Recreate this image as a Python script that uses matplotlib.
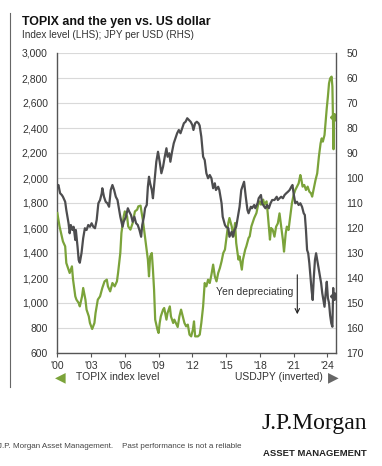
import matplotlib
matplotlib.use("Agg")
import matplotlib.pyplot as plt
from matplotlib.lines import Line2D

plt.rcParams['font.family'] = ['Liberation Sans', 'DejaVu Sans']

# ---------------- data ----------------
topix_years = [2000.0, 2000.2, 2000.4, 2000.5, 2000.7, 2000.8, 2001.0, 2001.1, 2001.3, 2001.4,
               2001.6, 2001.7, 2001.9, 2002.0, 2002.2, 2002.3, 2002.5, 2002.6, 2002.8, 2002.9,
               2003.1, 2003.3, 2003.4, 2003.6, 2003.8, 2004.0, 2004.2, 2004.4, 2004.5, 2004.7,
               2004.9, 2005.1, 2005.3, 2005.4, 2005.6, 2005.7, 2005.9, 2006.0, 2006.2, 2006.3,
               2006.5, 2006.7, 2006.9, 2007.1, 2007.2, 2007.4, 2007.5, 2007.6, 2007.75, 2007.9,
               2008.05, 2008.15, 2008.25, 2008.4, 2008.5, 2008.6, 2008.7, 2008.9, 2009.0, 2009.1,
               2009.2, 2009.4, 2009.5, 2009.7, 2009.8, 2010.0, 2010.1, 2010.3, 2010.4, 2010.6,
               2010.7, 2010.85, 2011.0, 2011.15, 2011.3, 2011.45, 2011.6, 2011.75, 2011.9, 2012.05,
               2012.15, 2012.25, 2012.5, 2012.66, 2012.8, 2012.96, 2013.1, 2013.25, 2013.4, 2013.55,
               2013.7, 2013.85, 2014.0, 2014.15, 2014.3, 2014.45, 2014.6, 2014.75, 2014.9, 2015.05,
               2015.2, 2015.3, 2015.5, 2015.65, 2015.8, 2015.9, 2016.1, 2016.2, 2016.4, 2016.5,
               2016.7, 2016.8, 2017.0, 2017.1, 2017.25, 2017.4, 2017.5, 2017.7, 2017.85, 2018.0,
               2018.1, 2018.3, 2018.4, 2018.6, 2018.7, 2018.9, 2019.0, 2019.15, 2019.3, 2019.45,
               2019.6, 2019.75, 2019.9, 2020.05, 2020.15, 2020.3, 2020.4, 2020.55, 2020.7, 2020.85,
               2021.0, 2021.15, 2021.3, 2021.45, 2021.6, 2021.7, 2021.8, 2021.95, 2022.1, 2022.25,
               2022.4, 2022.55, 2022.65, 2022.8, 2022.95, 2023.1, 2023.25, 2023.4, 2023.5, 2023.6,
               2023.75, 2023.85, 2023.95, 2024.05, 2024.15, 2024.25, 2024.38, 2024.45, 2024.5, 2024.55,
               2024.57]
topix_values = [1720, 1613, 1533, 1493, 1453, 1320, 1267, 1240, 1293, 1187,
                1053, 1027, 1000, 973, 1053, 1120, 1027, 947, 893, 840,
                792, 840, 920, 1027, 1053, 1120, 1173, 1187, 1133, 1093,
                1160, 1133, 1173, 1240, 1400, 1560, 1693, 1733, 1693, 1613,
                1587, 1640, 1733, 1747, 1773, 1779, 1720, 1667, 1560, 1453,
                1347, 1213, 1373, 1400, 1267, 1107, 867, 787, 760, 840,
                893, 947, 960, 867, 920, 973, 893, 840, 867, 827,
                808, 893, 947, 893, 840, 813, 827, 747, 733, 787,
                853, 733, 733, 747, 840, 973, 1160, 1133, 1187, 1160,
                1227, 1307, 1213, 1173, 1240, 1280, 1333, 1400, 1427, 1533,
                1640, 1680, 1613, 1533, 1640, 1480, 1347, 1373, 1267, 1347,
                1427, 1453, 1520, 1533, 1613, 1653, 1680, 1720, 1787, 1813,
                1787, 1827, 1787, 1813, 1720, 1507, 1600, 1584, 1531, 1611,
                1637, 1717, 1611, 1504, 1411, 1557, 1611, 1584, 1691, 1797,
                1864, 1904, 1931, 1957, 2024, 1984, 1931, 1944, 1904, 1931,
                1891, 1877, 1851, 1917, 1984, 2037, 2171, 2277, 2317, 2291,
                2344, 2451, 2560, 2651, 2757, 2797, 2811, 2731, 2500, 2230,
                2490]

usdjpy_years = [2000.0, 2000.1, 2000.25, 2000.4, 2000.5, 2000.7, 2000.8, 2001.0, 2001.1, 2001.2,
                2001.35, 2001.45, 2001.6, 2001.65, 2001.8, 2001.9, 2002.0, 2002.15, 2002.3, 2002.45,
                2002.6, 2002.75, 2002.9, 2003.05, 2003.2, 2003.35, 2003.5, 2003.65, 2003.8, 2003.95,
                2004.0, 2004.15, 2004.3, 2004.45, 2004.6, 2004.75, 2004.9, 2005.05, 2005.2, 2005.35,
                2005.5, 2005.6, 2005.8, 2005.9, 2006.1, 2006.27, 2006.4, 2006.55, 2006.7, 2006.85,
                2007.0, 2007.15, 2007.3, 2007.45, 2007.55, 2007.7, 2007.8, 2007.95, 2008.05, 2008.15,
                2008.25, 2008.4, 2008.5, 2008.65, 2008.8, 2008.95, 2009.1, 2009.25, 2009.4, 2009.55,
                2009.7, 2009.8, 2009.95, 2010.05, 2010.2, 2010.35, 2010.5, 2010.65, 2010.8, 2010.95,
                2011.1, 2011.25, 2011.4, 2011.55, 2011.7, 2011.85, 2012.0, 2012.1, 2012.25, 2012.4,
                2012.55, 2012.65, 2012.8, 2012.96, 2013.1, 2013.25, 2013.4, 2013.55, 2013.7, 2013.85,
                2014.0, 2014.1, 2014.3, 2014.4, 2014.6, 2014.7, 2014.9, 2015.0, 2015.2, 2015.3,
                2015.5, 2015.6, 2015.75, 2015.9, 2016.05, 2016.2, 2016.35, 2016.5, 2016.6, 2016.75,
                2016.9, 2017.0, 2017.2, 2017.3, 2017.5, 2017.6, 2017.8, 2017.9, 2018.1, 2018.2,
                2018.4, 2018.5, 2018.65, 2018.8, 2018.95, 2019.1, 2019.3, 2019.5, 2019.6, 2019.75,
                2019.9, 2020.05, 2020.2, 2020.35, 2020.5, 2020.65, 2020.8, 2020.9, 2021.0, 2021.15,
                2021.3, 2021.45, 2021.6, 2021.75, 2021.9, 2022.0, 2022.1, 2022.2, 2022.3, 2022.4,
                2022.5, 2022.6, 2022.7, 2022.8, 2022.9, 2023.0, 2023.1, 2023.2, 2023.35, 2023.45,
                2023.55, 2023.65, 2023.75, 2023.85, 2023.95, 2024.05, 2024.15, 2024.25, 2024.35, 2024.45,
                2024.52, 2024.55]
usdjpy_values = [103.5, 102.8, 106.1, 106.8, 107.5, 109.5, 112.8, 118.1, 122.1, 118.8,
                 120.8, 119.5, 124.8, 120.8, 127.5, 132.8, 133.9, 130.1, 124.1, 120.1,
                 120.8, 118.8, 119.5, 118.1, 119.5, 120.1, 116.8, 110.1, 108.8, 106.1,
                 104.1, 107.5, 109.5, 110.1, 111.5, 104.8, 102.8, 104.8, 107.5, 108.8,
                 112.8, 115.5, 119.5, 117.5, 115.5, 112.1, 113.5, 114.8, 117.5, 115.5,
                 118.1, 118.8, 120.8, 123.5, 118.8, 115.5, 112.1, 110.8, 103.5, 99.5,
                 102.1, 104.8, 108.1, 100.8, 93.5, 89.5, 93.5, 98.1, 95.5, 91.5,
                 88.1, 91.5, 90.1, 93.5, 89.5, 86.1, 84.1, 82.1, 80.8, 82.1,
                 80.1, 78.1, 77.5, 76.1, 76.8, 77.5, 78.8, 80.8, 78.1, 77.5,
                 78.1, 79.0, 83.5, 91.5, 92.8, 98.1, 100.1, 98.8, 100.1, 104.1,
                 102.1, 104.8, 103.5, 104.8, 110.1, 115.5, 118.8, 119.5, 120.1, 123.5,
                 121.5, 123.5, 120.8, 119.5, 115.5, 111.5, 104.8, 102.8, 101.5, 107.5,
                 112.8, 114.1, 111.5, 112.1, 110.8, 112.1, 110.1, 108.1, 106.8, 110.1,
                 111.5, 112.1, 110.8, 112.1, 110.1, 108.8, 108.8, 107.5, 108.8, 108.1,
                 107.5, 108.1, 106.8, 106.1, 105.5, 104.8, 103.5, 102.8, 106.1, 110.1,
                 109.5, 110.8, 110.1, 111.5, 114.1, 114.8, 120.8, 128.8, 130.1, 134.1,
                 139.5, 144.8, 148.8, 139.5, 132.8, 130.1, 132.8, 135.5, 139.5, 142.1,
                 146.1, 148.8, 151.5, 146.1, 141.5, 148.0, 150.0, 155.0, 158.1, 159.5,
                 144.0, 147.0]

x_ticks = [2000, 2003, 2006, 2009, 2012, 2015, 2018, 2021, 2024]
x_tick_labels = ["'00", "'03", "'06", "'09", "'12", "'15", "'18", "'21", "'24"]
left_ticks = list(range(600, 3001, 200))
right_ticks = list(range(50, 171, 10))

GREEN = '#7BA33A'
GREY = '#4D4D4F'
AXC = '#555555'
TXT = '#333333'

W, H = 382, 466
fig = plt.figure(figsize=(W / 100, H / 100), dpi=100)
fig.patch.set_facecolor('white')

L, R, T, B = 57.3, 336.0, 53.0, 353.0
ax = fig.add_axes([L / W, 1 - B / H, (R - L) / W, (B - T) / H])
ax2 = ax.twinx()

ax.plot(topix_years, topix_values, color=GREEN, lw=1.6, zorder=3, solid_joinstyle='round')
ax.plot(topix_years[-1], topix_values[-1], marker='D', ms=4.5, color=GREEN, zorder=4)
ax2.plot(usdjpy_years, usdjpy_values, color=GREY, lw=1.6, zorder=3, solid_joinstyle='round')
ax2.plot(usdjpy_years[-1], usdjpy_values[-1], marker='D', ms=4.5, color=GREY, zorder=4)

ax.set_xlim(2000, 2024.77)
ax.set_ylim(600, 3000)
ax2.set_ylim(170, 50)

ax.set_yticks(left_ticks)
ax.set_yticklabels([f"{v:,}" for v in left_ticks])
ax2.set_yticks(right_ticks)
ax2.set_yticklabels([str(v) for v in right_ticks])
ax.set_xticks(x_ticks)
ax.set_xticklabels(x_tick_labels)

ax.grid(axis='y', color='#D9D9D9', lw=0.8)
ax.set_axisbelow(True)

for a in (ax, ax2):
    a.spines['top'].set_visible(False)
ax2.spines['left'].set_visible(False)
ax2.spines['bottom'].set_visible(False)
ax.spines['right'].set_visible(False)
for s in (ax.spines['left'], ax.spines['bottom'], ax2.spines['right']):
    s.set_color(AXC)
    s.set_linewidth(1.0)

ax.tick_params(axis='y', length=0, pad=6.7, labelsize=7.5, labelcolor=TXT)
ax2.tick_params(axis='y', length=0, pad=7.7, labelsize=7.5, labelcolor=TXT)
ax.tick_params(axis='x', length=3, width=0.8, color=AXC, direction='out', pad=3,
               labelsize=7.5, labelcolor=TXT)

# annotation
ax.text(2014.1, 1085, "Yen depreciating", fontsize=7.5, color=TXT, va='center', ha='left',
        transform=ax.transData)
ax.annotate("", xy=(297.3 / W, 1 - 317 / H), xytext=(297.3 / W, 1 - 272 / H),
            xycoords='figure fraction', textcoords='figure fraction',
            arrowprops=dict(arrowstyle='->', color='#222222', lw=0.8, mutation_scale=8))

# title
fig.text(22 / W, 1 - 22 / H, "TOPIX and the yen vs. US dollar", fontsize=8.9, fontweight='bold',
         color='#111111', va='center', ha='left')
fig.text(22 / W, 1 - 35 / H, "Index level (LHS); JPY per USD (RHS)", fontsize=7.2,
         color=TXT, va='center', ha='left')

# legend
fig.text(60 / W, 1 - 377 / H, "\u25C0", fontsize=10, color=GREEN, va='center', ha='center',
         family='DejaVu Sans')
fig.text(76 / W, 1 - 377 / H, "TOPIX index level", fontsize=7.5, color=TXT, va='center', ha='left')
fig.text(323 / W, 1 - 377 / H, "USDJPY (inverted)", fontsize=7.5, color=TXT, va='center', ha='right')
fig.text(333 / W, 1 - 377 / H, "\u25B6", fontsize=10, color='#666666', va='center', ha='center',
         family='DejaVu Sans')

# left vertical rule
fig.add_artist(Line2D([10 / W, 10 / W], [1 - 13 / H, 1 - 387 / H], color='#666666', lw=0.8))

# footer
fig.text(-2 / W, 1 - 447 / H, "J.P. Morgan Asset Management.    Past performance is not a reliable",
         fontsize=5.8, color='#444444', va='center', ha='left')
fig.text(261 / W, 1 - 429 / H, "J.P.Morgan", fontsize=17, family='Liberation Serif',
         color='#111111', va='baseline', ha='left')
fig.text(263 / W, 1 - 453 / H, "ASSET MANAGEMENT", fontsize=6.8, fontweight='bold',
         color='#222222', va='center', ha='left')

fig.savefig("out.png", dpi=100)
